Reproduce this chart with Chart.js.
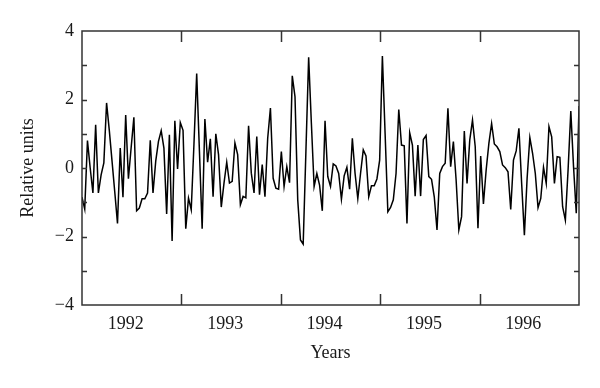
<!DOCTYPE html>
<html>
<head>
<meta charset="utf-8">
<script src="https://cdn.jsdelivr.net/npm/chart.js@4"></script>
<style>
  html, body { margin: 0; padding: 0; background: #ffffff; }
  #wrap { width: 600px; height: 388px; }
</style>
</head>
<body>
<div id="wrap"><canvas id="c" width="600" height="388"></canvas></div>
<script>
// ---- data (about 36 values per year, 1992-1996) ----
const years = ['1992', '1993', '1994', '1995', '1996'];
const yearBoundaries = [1, 2, 3, 4];          // axis positions (years since start of 1992)
const yearLabelPositions = [0.44, 1.44, 2.44, 3.44, 4.44];
const yTickValues = [-3, -2, -1, 0, 1, 2, 3];
const values = [
  -0.85, -1.2, 0.8, 0.0, -0.73, 1.26, -0.73, -0.2, 0.15, 1.9,
  1.1, 0.2, -0.7, -1.62, 0.58, -0.85, 1.55, -0.31, 0.6, 1.48,
  -1.25, -1.17, -0.9, -0.9, -0.73, 0.81, -0.73, 0.2, 0.78, 1.09,
  0.58, -1.34, 0.97, -2.13, 1.38, -0.03, 1.33, 1.1, -1.77, -0.88,
  -1.22, 0.7, 2.76, 0.5, -1.77, 1.43, 0.17, 0.85, -0.84, 1.0,
  0.39, -1.14, -0.44, 0.17, -0.44, -0.39, 0.73, 0.39, -1.07, -0.83,
  -0.87, 1.23, -0.15, -0.73, 0.92, -0.78, 0.1, -0.84, 0.87, 1.75,
  -0.3, -0.59, -0.62, 0.48, -0.54, 0.04, -0.43, 2.69, 2.08, -0.93,
  -2.1, -2.22, 0.5, 3.23, 1.3, -0.54, -0.16, -0.5, -1.25, 1.38,
  -0.25, -0.54, 0.12, 0.06, -0.16, -0.91, -0.23, 0.02, -0.62, 0.87,
  -0.16, -0.89, -0.16, 0.53, 0.35, -0.84, -0.52, -0.52, -0.32, 0.23,
  3.27, 1.0, -1.28, -1.15, -0.93, -0.16, 1.71, 0.67, 0.65, -1.62,
  1.03, 0.67, -0.82, 0.67, -0.82, 0.83, 0.95, -0.25, -0.33, -0.84,
  -1.81, -0.16, 0.04, 0.14, 1.74, 0.04, 0.77, -0.35, -1.81, -1.42,
  1.08, -0.45, 0.82, 1.4, 0.62, -1.76, 0.35, -1.05, -0.06, 0.72,
  1.3, 0.7, 0.62, 0.48, 0.09, 0.01, -0.11, -1.21, 0.23, 0.5,
  1.16, -0.45, -1.96, -0.3, 0.89, 0.43, -0.16, -1.16, -0.89, 0.02,
  -0.45, 1.21, 0.91, -0.45, 0.33, 0.31, -1.13, -1.52, -0.06, 1.66,
  0.04, -1.32, 1.81
];

const spanYears = years.length;
const points = values.map((v, i) => ({ x: i * spanYears / (values.length - 1), y: v }));

const FONT = "'Liberation Serif', 'DejaVu Serif', serif";
const TEXT = '#1a1a1a';
const AXIS = '#333333';

const frame = {
  id: 'frame',
  afterDatasetsDraw(chart) {
    const { ctx, chartArea: a } = chart;
    const xs = chart.scales.x, ys = chart.scales.y;
    ctx.save();
    ctx.strokeStyle = AXIS;
    ctx.lineWidth = 1.5;
    ctx.strokeRect(a.left, a.top, a.right - a.left, a.bottom - a.top);
    ctx.beginPath();
    yearBoundaries.forEach(b => {
      const px = Math.round(xs.getPixelForValue(b)) + 0.5;
      ctx.moveTo(px, a.bottom); ctx.lineTo(px, a.bottom - 11);
      ctx.moveTo(px, a.top); ctx.lineTo(px, a.top + 11);
    });
    yTickValues.forEach(v => {
      const py = Math.round(ys.getPixelForValue(v)) + 0.5;
      ctx.moveTo(a.left, py); ctx.lineTo(a.left + 5, py);
      ctx.moveTo(a.right, py); ctx.lineTo(a.right - 5, py);
    });
    ctx.stroke();
    ctx.restore();
  }
};

new Chart(document.getElementById('c'), {
  type: 'line',
  data: {
    datasets: [{
      data: points,
      borderColor: '#000000',
      borderWidth: 1.5,
      pointRadius: 0,
      tension: 0,
      fill: false
    }]
  },
  options: {
    responsive: false,
    animation: false,
    devicePixelRatio: 1,
    layout: { padding: { left: 0, right: 21, top: 31, bottom: 0 } },
    plugins: { legend: { display: false }, tooltip: { enabled: false } },
    scales: {
      x: {
        type: 'linear',
        min: 0,
        max: spanYears,
        afterBuildTicks: axis => { axis.ticks = yearLabelPositions.map(v => ({ value: v })); },
        afterFit: axis => { axis.height = 83; },
        grid: { display: false, drawTicks: false },
        border: { display: false },
        ticks: {
          autoSkip: false,
          maxRotation: 0,
          padding: 8,
          color: TEXT,
          font: { family: FONT, size: 18 },
          callback: (v, i) => years[i]
        },
        title: {
          display: true,
          text: 'Years',
          color: TEXT,
          font: { family: FONT, size: 18 },
          padding: { top: 0, bottom: 24 }
        }
      },
      y: {
        min: -4,
        max: 4,
        afterFit: axis => { axis.width = 82; },
        grid: { display: false, drawTicks: false },
        border: { display: false },
        ticks: {
          stepSize: 2,
          padding: 8,
          color: TEXT,
          font: { family: FONT, size: 18 },
          callback: v => (v < 0 ? '\u2212' + Math.abs(v) : String(v))
        },
        title: {
          display: true,
          text: 'Relative units',
          color: TEXT,
          font: { family: FONT, size: 18 },
          padding: { top: 17, bottom: 0 }
        }
      }
    }
  },
  plugins: [frame]
});
</script>
</body>
</html>
